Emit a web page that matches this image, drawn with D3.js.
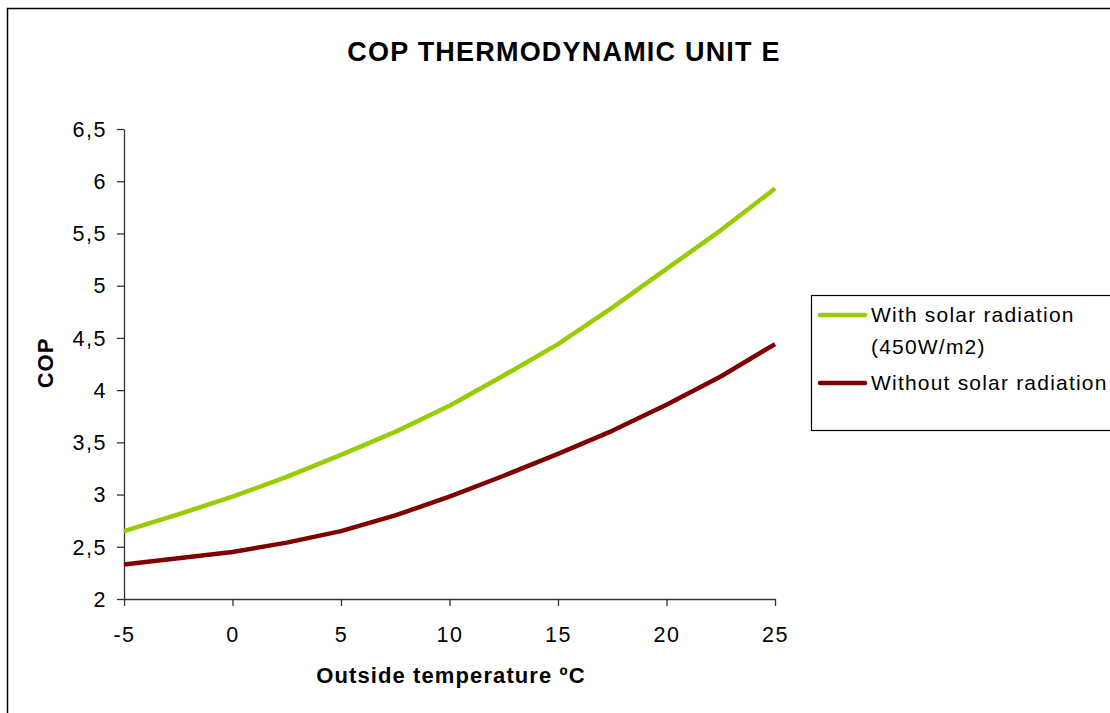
<!DOCTYPE html>
<html>
<head>
<meta charset="utf-8">
<script src="https://cdn.jsdelivr.net/npm/d3@7"></script>
<style>
  body { margin: 0; background: #fff; }
  text { font-family: Arial, "Liberation Sans", sans-serif; }
</style>
</head>
<body>
<div id="chart"></div>
<script>
// Data
var temps = [-5, -2.5, 0, 2.5, 5, 7.5, 10, 12.5, 15, 17.5, 20, 22.5, 25];
var withSolar = [2.65, 2.81, 2.98, 3.17, 3.38, 3.60, 3.85, 4.14, 4.44, 4.79, 5.16, 5.53, 5.93];
var withoutSolar = [2.33, 2.39, 2.45, 2.54, 2.65, 2.80, 2.98, 3.18, 3.39, 3.61, 3.86, 4.13, 4.44];
var seriesNames = ["With solar radiation (450W/m2)", "Without solar radiation"];
var xTicks = [-5, 0, 5, 10, 15, 20, 25];
var yTicks = [2, 2.5, 3, 3.5, 4, 4.5, 5, 5.5, 6, 6.5];

var svgWidth = 1110;
var svgHeight = 713;

var svg = d3.select("#chart")
  .append("svg")
  .attr("width", svgWidth)
  .attr("height", svgHeight);

// outer chart border (runs off right/bottom)
svg.append("rect")
  .attr("x", 7.5)
  .attr("y", 8.5)
  .attr("width", 1120)
  .attr("height", 720)
  .attr("fill", "none")
  .attr("stroke", "#000")
  .attr("stroke-width", 1.5);

var plot = { left: 124, right: 775, top: 129, bottom: 599 };

var x = d3.scaleLinear()
  .domain([-5, 25])
  .range([plot.left, plot.right]);

var y = d3.scaleLinear()
  .domain([2, 6.5])
  .range([plot.bottom, plot.top]);

var fmt = function(d) { return String(d).replace(".", ","); };

// Axes
var xAxis = svg.append("g")
  .attr("transform", `translate(0, ${plot.bottom})`)
  .call(d3.axisBottom(x).tickValues(xTicks).tickSize(7).tickSizeOuter(0).tickPadding(21).tickFormat(fmt));

var yAxis = svg.append("g")
  .attr("transform", `translate(${plot.left}, 0)`)
  .call(d3.axisLeft(y).tickValues(yTicks).tickSize(7).tickSizeOuter(0).tickPadding(10).tickFormat(fmt));

[xAxis, yAxis].forEach(function(a) {
  a.select(".domain").attr("stroke", "#333").attr("stroke-width", 1.3);
  a.selectAll(".tick line").attr("stroke", "#333").attr("stroke-width", 1.3);
  a.selectAll(".tick text")
    .attr("fill", "#000")
    .style("font-size", "21.5px")
    .style("letter-spacing", "1.5px")
    .style("font-family", "Arial, 'Liberation Sans', sans-serif");
});
yAxis.selectAll(".tick text").attr("dy", "0.34em");

// Lines
var line = d3.line()
  .x(function(d) { return x(d[0]); })
  .y(function(d) { return y(d[1]); });

var series = [
  { values: withSolar, color: "#99cc00" },
  { values: withoutSolar, color: "#800000" }
];

series.forEach(function(s) {
  svg.append("path")
    .datum(temps.map(function(t, i) { return [t, s.values[i]]; }))
    .attr("d", line)
    .attr("fill", "none")
    .attr("stroke", s.color)
    .attr("stroke-width", 4.5)
    .attr("stroke-linejoin", "round");
});

// Title
svg.append("text")
  .attr("x", 564)
  .attr("y", 61)
  .attr("text-anchor", "middle")
  .style("font-size", "27px")
  .style("font-weight", "bold")
  .style("letter-spacing", "1.2px")
  .text("COP THERMODYNAMIC UNIT E");

// Axis titles
svg.append("text")
  .attr("x", 451)
  .attr("y", 683)
  .attr("text-anchor", "middle")
  .style("font-size", "22px")
  .style("font-weight", "bold")
  .style("letter-spacing", "1.1px")
  .text("Outside temperature ºC");

svg.append("text")
  .attr("transform", "translate(53, 363) rotate(-90)")
  .attr("text-anchor", "middle")
  .style("font-size", "22px")
  .style("font-weight", "bold")
  .style("letter-spacing", "1px")
  .text("COP");

// Legend
var legend = svg.append("g");
legend.append("rect")
  .attr("x", 811.5)
  .attr("y", 295.5)
  .attr("width", 320)
  .attr("height", 135)
  .attr("fill", "#fff")
  .attr("stroke", "#000")
  .attr("stroke-width", 1.2);

var legendRows = [
  { lines: ["With solar radiation", "(450W/m2)"], y: 315, color: series[0].color },
  { lines: ["Without solar radiation"], y: 383, color: series[1].color }
];

legendRows.forEach(function(r) {
  legend.append("line")
    .attr("x1", 820).attr("x2", 865)
    .attr("y1", r.y).attr("y2", r.y)
    .attr("stroke", r.color)
    .attr("stroke-width", 4.5)
    .attr("stroke-linecap", "round");
  r.lines.forEach(function(l, j) {
    legend.append("text")
      .attr("x", 871)
      .attr("y", r.y + 7 + j * 32)
      .style("font-size", "21px")
      .style("letter-spacing", "1.2px")
      .text(l);
  });
});
</script>
</body>
</html>
